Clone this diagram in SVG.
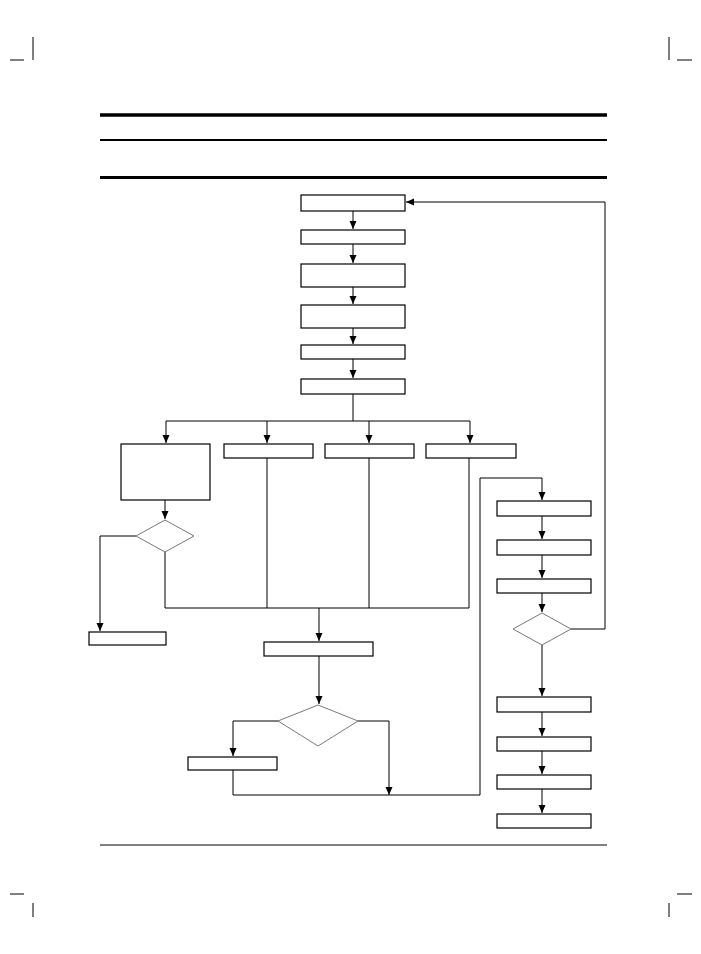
<svg xmlns="http://www.w3.org/2000/svg" width="701" height="954" viewBox="0 0 701 954">
<style>
.n{fill:#fff;stroke:#000;stroke-width:1.2}
.d{fill:#fff;stroke:#555;stroke-width:0.8}
.c{fill:none;stroke:#000;stroke-width:1}
.a{fill:none;stroke:#000;stroke-width:1;marker-end:url(#ar)}
</style>
<defs><marker id="ar" viewBox="0 0 8 10" refX="8" refY="5" markerWidth="8" markerHeight="10" markerUnits="userSpaceOnUse" orient="auto"><path d="M0,1.5L8,5L0,8.5z" fill="#000"/></marker></defs>
<rect width="701" height="954" fill="#fff"/>
<g id="page" stroke="#000">
<line x1="100" y1="115" x2="607" y2="115" stroke-width="3.5"/>
<line x1="100" y1="140" x2="607" y2="140" stroke-width="2"/>
<line x1="100" y1="177.5" x2="607" y2="177.5" stroke-width="3"/>
<line x1="100" y1="845" x2="607" y2="845" stroke-width="1"/>
<path d="M33 37V60M10 60H24M669 37V60M677 60H692M10 894H24M33 903V917M677 894H692M669 903V917" stroke-width="1"/>
</g>
<g id="connectors">
<path class="a" d="M353 211V229"/>
<path class="a" d="M353 244V263"/>
<path class="a" d="M353 287V304"/>
<path class="a" d="M353 328V344"/>
<path class="a" d="M353 359V378"/>
<path class="c" d="M353 394V421M166 421H470"/>
<path class="a" d="M166 421V443"/>
<path class="a" d="M267 421V443"/>
<path class="a" d="M369 421V443"/>
<path class="a" d="M470 421V443"/>
<path class="a" d="M165 500V519"/>
<path class="a" d="M136 536H100V631"/>
<path class="c" d="M165 552V608H469M267 458V608M369 458V608M469 458V608"/>
<path class="a" d="M319 608V641"/>
<path class="a" d="M319 656V704"/>
<path class="a" d="M278 721H233V756"/>
<path class="c" d="M233 770V795H480V478H542"/>
<path class="a" d="M358 721H389V795"/>
<path class="a" d="M542 478V500"/>
<path class="a" d="M542 516V539"/>
<path class="a" d="M542 555V578"/>
<path class="a" d="M542 593V612"/>
<path class="a" d="M571 629H605V202H406"/>
<path class="a" d="M542 645V696"/>
<path class="a" d="M542 712V736"/>
<path class="a" d="M542 751V774"/>
<path class="a" d="M542 789V813"/>
</g>
<g id="b1"><rect class="n" x="301" y="195" width="104" height="16"/></g>
<g id="b2"><rect class="n" x="301" y="230" width="104" height="14"/></g>
<g id="b3"><rect class="n" x="301" y="264" width="104" height="23"/></g>
<g id="b4"><rect class="n" x="301" y="305" width="104" height="23"/></g>
<g id="b5"><rect class="n" x="301" y="345" width="104" height="14"/></g>
<g id="b6"><rect class="n" x="301" y="379" width="104" height="15"/></g>
<g id="b7"><rect class="n" x="121" y="444" width="89" height="56"/></g>
<g id="b8"><rect class="n" x="224" y="444" width="89" height="14"/></g>
<g id="b9"><rect class="n" x="325" y="444" width="89" height="14"/></g>
<g id="b10"><rect class="n" x="426" y="444" width="90" height="14"/></g>
<g id="d1"><polygon class="d" points="165,520 194,536 165,552 136,536"/></g>
<g id="b11"><rect class="n" x="89" y="632" width="77" height="13"/></g>
<g id="b12"><rect class="n" x="264" y="642" width="109" height="14"/></g>
<g id="d2"><polygon class="d" points="318,705 358,721 318,746 278,721"/></g>
<g id="b13"><rect class="n" x="188" y="757" width="89" height="13"/></g>
<g id="r1"><rect class="n" x="497" y="501" width="94" height="15"/></g>
<g id="r2"><rect class="n" x="497" y="540" width="94" height="15"/></g>
<g id="r3"><rect class="n" x="497" y="579" width="94" height="14"/></g>
<g id="d3"><polygon class="d" points="542,613 571,629 542,645 513,629"/></g>
<g id="r4"><rect class="n" x="497" y="697" width="94" height="15"/></g>
<g id="r5"><rect class="n" x="497" y="737" width="94" height="14"/></g>
<g id="r6"><rect class="n" x="497" y="775" width="94" height="14"/></g>
<g id="r7"><rect class="n" x="497" y="814" width="94" height="14"/></g>
</svg>
